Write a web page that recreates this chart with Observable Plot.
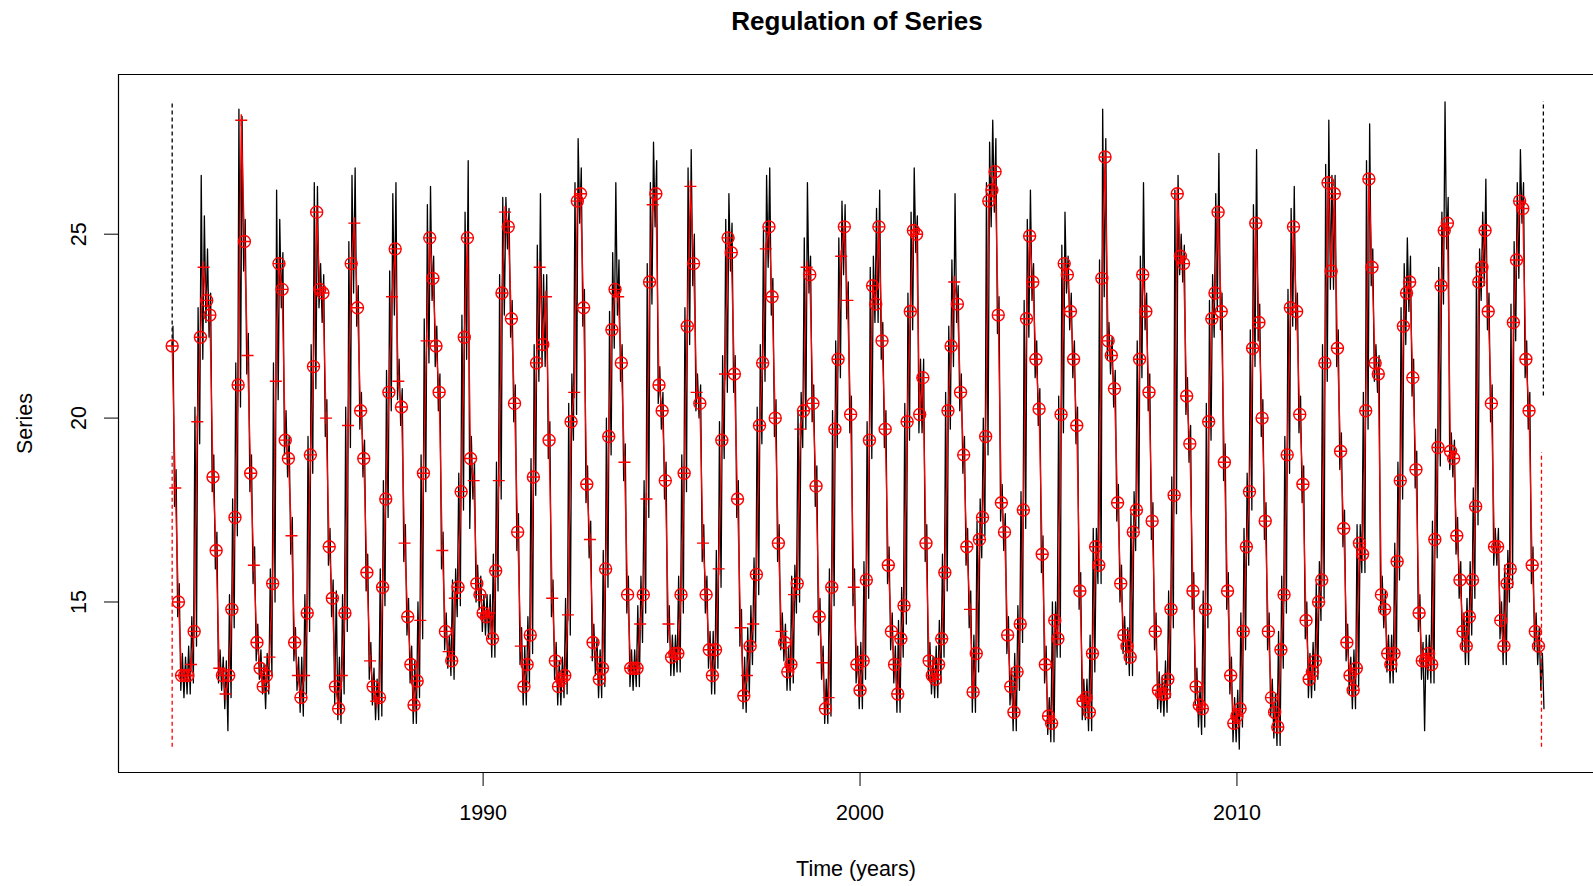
<!DOCTYPE html>
<html><head><meta charset="utf-8">
<script src="https://cdn.jsdelivr.net/npm/d3@7"></script>
<script src="https://cdn.jsdelivr.net/npm/@observablehq/plot@0.6"></script>
<style>
html,body{margin:0;padding:0;background:#fff;}
#title{height:74px;width:1593px;position:relative;font-family:"Liberation Sans",Arial,sans-serif;font-weight:bold;font-size:26px;color:#000;}
#title span{position:absolute;left:857px;top:21px;transform:translate(-50%,-50%);white-space:nowrap;}
#chart{width:1593px;height:812px;}
</style></head><body>
<div id="title"><span>Regulation of Series</span></div>
<div id="chart"></div>
<script>
// Monthly regularised series (red), starting October 1981
const seriesStart = 1981.75;
const redValues = [
 21.96,18.1,15.0,
 13.0,13.0,13.0,13.3,14.2,19.9,22.2,24.1,23.2,22.8,18.4,16.4,
 13.2,13.0,12.5,13.0,14.8,17.3,20.9,28.1,24.8,21.7,18.5,16.0,
 13.9,13.2,12.7,13.0,13.5,15.5,21.0,24.2,23.5,19.4,18.9,16.8,
 13.9,13.0,12.4,13.0,14.7,19.0,21.4,25.6,23.5,23.4,20.0,16.5,
 15.1,12.7,12.1,13.0,14.7,19.8,24.2,25.3,23.0,20.2,18.9,15.8,
 13.4,12.7,12.3,12.4,15.4,17.8,20.7,23.3,24.6,21.0,20.3,16.6,
 14.6,13.3,12.2,12.85,14.5,18.5,22.1,24.9,23.8,21.96,20.7,16.4,
 14.2,13.65,13.4,15.1,15.4,18.0,22.2,24.9,18.9,18.3,15.5,15.2,
 14.7,14.6,14.7,14.0,15.85,18.3,23.4,25.6,25.2,22.7,20.4,16.9,
 13.8,12.7,13.3,14.1,18.4,21.5,24.1,22.0,23.3,19.4,15.1,13.4,
 12.7,12.9,13.0,14.65,19.9,20.7,25.9,26.1,23.0,18.2,16.7,13.9,
 13.5,12.9,13.2,15.9,19.5,22.4,23.5,23.3,21.5,18.8,15.2,13.2,
 13.2,13.2,14.4,15.2,17.8,23.7,25.8,26.1,20.9,20.2,18.3,14.4,
 13.5,13.6,13.6,15.2,18.5,22.5,26.3,24.2,20.7,20.4,16.6,15.2,
 13.7,13.0,13.7,15.9,19.4,21.2,24.9,24.5,21.2,17.8,14.3,12.45,
 13.0,13.8,14.4,15.75,19.8,21.5,24.6,25.2,23.3,20.0,16.6,14.2,
 13.9,13.1,13.3,15.2,15.5,19.7,20.2,24.1,23.9,20.4,18.15,14.6,
 13.35,12.1,12.4,15.4,19.7,21.6,24.4,25.2,23.2,20.1,15.4,13.3,
 12.6,13.4,15.6,19.4,23.6,23.1,25.2,22.1,19.7,16.0,14.2,13.3,
 12.5,14.0,14.9,19.9,22.9,25.1,25.0,20.1,21.1,16.6,13.4,13.0,
 12.9,13.3,14.0,15.8,20.2,21.96,23.7,23.1,20.7,19.0,16.5,14.8,
 12.55,13.6,16.7,17.3,19.5,25.9,26.2,26.7,22.8,17.7,16.9,14.1,
 12.7,12.0,13.1,14.4,17.5,22.7,24.95,23.7,21.6,20.25,16.3,13.3,
 11.9,11.7,14.5,14.0,20.1,24.2,23.9,22.9,21.6,19.8,15.3,12.3,
 12.4,12.0,13.6,16.5,16.0,23.8,27.1,22.1,21.7,20.8,17.7,15.5,
 14.1,13.8,13.5,16.9,17.5,21.6,23.9,22.9,20.7,17.2,14.2,12.6,
 12.5,12.5,12.9,14.8,17.9,26.1,24.4,24.2,20.6,19.3,15.3,12.7,
 12.2,12.1,14.8,19.9,22.7,23.4,25.6,22.9,18.8,15.3,13.0,11.7,
 11.9,12.1,14.2,16.5,18.0,21.9,25.3,22.6,20.0,17.2,14.2,12.4,
 12.0,11.6,13.7,15.2,19.0,23.0,25.2,22.9,20.1,18.2,14.5,12.9,
 13.1,13.4,15.0,15.6,21.5,26.4,24.0,26.1,21.9,19.1,17.0,13.9,
 13.0,12.6,13.2,16.6,16.3,20.2,26.5,24.1,21.5,21.2,15.2,14.8,
 13.6,13.3,13.6,16.1,18.3,22.5,23.4,23.7,21.1,18.6,14.7,13.4,
 13.4,13.6,13.3,16.7,19.2,23.6,25.1,25.3,19.1,18.9,16.8,15.6,
 14.2,13.8,14.6,15.6,17.6,23.7,24.1,25.1,22.9,20.4,16.5,16.5,
 14.5,13.8,15.5,15.9,22.6,24.3,25.9,25.7,21.6,20.2,16.0,14.2,
 13.8
];
// "o" = observed point (circle with plus), "+" = plus only
const redMarker = [
 "o+o",
 "ooo+o+o+oooo","+o+oooo+o+o+","oooo+o+oooo+","o+o+oooooo+o","ooo+o+o+oooo",
 "+o+oooo+o+o+","oooo+o+oooo+","o+o+ooooo+oo","oo+oo+o+oooo","+ooooo+o+o+o",
 "ooo+o+oooo+o","+oooooo+o+oo","oo+o+o+oooo+","oooooo+o+o+o","ooo+o+oooo+o",
 "+o+ooo+oooo+","ooo+o+o+oooo","+o+ooo+o+o+o","oooooooooooo","oooooooooooo",
 "oooooo+oooo+","oooooooooooo","oooooooooooo","oooooooooooo","oooooooooooo",
 "oooooooooooo","oooooooooooo","oooooooooooo","oooooooooooo","oooooooooooo",
 "oooooooooooo","oooooooooooo","oooooooooooo","oooooooooooo","oooooooooooo",
 "oooooooooooo","o"
].join("");
// Raw daily series (black): monthly high and low excursions
const blackHi = [
 22.5,18.6,15.5,
 13.6,13.5,13.8,14.6,20.3,23.0,26.6,25.5,24.6,23.4,19.0,16.9,
 13.7,13.5,13.4,15.2,17.8,21.5,28.4,28.2,25.4,22.3,19.0,16.5,
 14.4,13.7,13.3,13.6,15.9,21.5,26.2,25.4,24.5,20.2,19.5,17.3,
 14.3,13.5,13.5,15.2,19.5,22.0,26.4,26.3,24.2,23.9,20.5,17.0,
 15.6,15.3,13.5,15.2,20.3,24.8,26.6,26.8,23.6,20.7,19.4,16.3,
 13.9,13.2,12.9,15.9,18.3,21.3,24.0,26.1,26.4,21.6,20.8,17.1,
 15.1,13.8,13.4,15.0,19.0,22.7,25.8,26.3,24.4,22.5,21.2,16.9,
 14.7,14.1,15.6,15.9,18.5,22.8,25.6,27.0,19.5,18.8,16.0,15.7,
 15.2,15.2,15.2,16.3,18.8,23.9,26.0,26.0,25.7,23.2,20.9,17.4,
 14.3,13.8,14.6,18.9,22.0,24.7,26.1,23.9,23.9,19.9,15.6,13.9,
 13.4,13.5,15.1,20.4,21.2,26.4,27.6,26.8,23.5,18.7,17.2,14.4,
 14.0,13.7,16.4,20.0,22.9,24.5,26.4,24.3,22.0,19.3,15.7,13.7,
 13.7,14.9,15.7,18.3,24.2,26.4,27.5,27.0,21.4,20.7,18.8,14.9,
 14.1,14.1,15.7,19.0,23.0,26.8,27.3,25.0,21.2,20.9,17.1,15.7,
 14.2,14.2,16.4,19.9,21.7,25.4,26.1,25.3,21.7,18.3,14.8,13.5,
 14.3,14.9,16.2,20.3,22.0,25.1,26.6,26.8,23.8,20.5,17.1,14.7,
 14.4,13.8,15.7,16.0,20.2,20.7,24.9,26.4,24.4,20.9,18.7,15.1,
 13.8,12.9,15.9,20.2,22.1,24.9,25.9,25.8,23.7,20.6,15.9,13.8,
 13.9,16.1,19.9,24.1,24.4,25.7,26.2,22.6,20.2,16.5,14.7,13.8,
 14.5,15.4,20.4,23.4,25.6,26.8,25.5,21.6,21.6,17.1,13.9,13.5,
 13.8,14.5,16.3,20.7,22.5,24.3,26.1,23.6,21.2,19.5,17.0,15.3,
 14.1,17.2,17.8,20.0,26.4,27.5,28.1,27.6,23.3,18.2,17.4,14.6,
 13.2,13.6,14.9,18.0,23.2,25.4,26.2,24.2,22.1,20.8,16.8,13.8,
 12.4,15.0,15.0,20.6,24.7,25.6,24.4,23.4,22.1,20.3,15.8,12.9,
 12.9,14.1,17.0,17.0,24.3,28.4,27.6,22.6,22.2,21.3,18.2,16.0,
 14.6,14.3,17.4,18.0,22.1,24.4,26.4,23.4,21.2,17.7,14.7,13.1,
 13.0,13.4,15.3,18.4,26.2,26.6,25.0,24.7,21.1,19.8,15.8,13.2,
 12.7,15.3,20.4,23.2,23.9,26.1,27.2,23.4,19.3,15.8,13.5,12.4,
 12.6,14.7,17.0,18.5,22.4,25.8,27.3,23.1,20.5,17.7,14.7,12.9,
 12.5,14.2,15.7,19.5,23.5,25.7,26.3,23.4,20.6,18.7,15.0,13.6,
 13.9,15.5,16.1,22.0,26.9,28.1,26.6,26.6,22.4,19.6,17.5,14.4,
 13.5,13.7,17.1,17.1,20.7,27.0,28.0,24.6,22.0,21.7,15.7,15.3,
 14.1,14.1,16.6,18.8,23.0,24.2,24.9,24.4,21.6,19.1,15.2,13.9,
 14.1,14.1,17.2,19.7,24.1,25.6,28.6,26.0,19.6,19.4,17.3,16.1,
 14.7,15.1,16.1,18.1,24.2,24.6,25.6,26.5,23.4,20.9,17.0,17.0,
 15.0,16.0,16.4,23.1,24.8,26.4,27.3,26.4,22.1,20.7,16.5,14.7,
 14.3,13.6
];
const blackLo = [
 17.6,14.6,12.6,
 12.4,12.5,12.5,12.8,13.8,19.3,21.6,22.6,22.2,18.0,15.9,12.8,
 12.6,12.1,11.5,12.4,14.3,16.8,20.3,24.0,21.2,18.0,15.5,13.4,
 12.9,12.5,12.1,12.5,13.0,15.0,20.5,23.0,19.0,18.4,16.3,13.4,
 12.6,12.0,11.9,12.5,14.2,18.5,20.8,23.0,22.6,19.5,16.0,14.6,
 12.2,11.8,11.7,12.5,14.2,19.2,23.4,22.5,19.7,18.4,15.3,12.9,
 12.2,11.8,11.8,11.9,14.9,17.3,20.2,22.8,20.5,19.8,16.1,14.1,
 12.8,11.7,11.7,12.4,14.0,18.0,21.5,23.2,21.4,20.2,15.9,13.7,
 13.2,13.0,12.9,14.6,14.9,17.5,21.6,17.0,17.8,15.0,14.8,14.2,
 14.1,14.0,13.5,13.5,15.3,17.8,22.8,24.6,22.2,19.9,16.4,13.3,
 12.2,12.2,12.8,13.6,17.9,21.0,21.4,21.4,18.9,14.6,12.9,12.2,
 12.2,12.4,12.5,14.1,19.4,20.1,25.3,22.5,17.7,16.2,13.4,13.0,
 12.4,12.4,12.7,15.4,19.0,21.9,22.8,21.0,18.3,14.7,12.7,12.6,
 12.7,12.7,13.9,14.7,17.3,23.1,25.2,20.4,19.7,17.8,13.9,13.0,
 13.0,13.1,13.1,14.7,18.0,22.0,23.6,20.2,20.0,16.1,14.7,13.2,
 12.5,12.5,13.2,15.4,18.9,20.7,24.0,20.7,17.3,13.8,12.1,12.0,
 12.5,13.3,13.9,15.2,19.3,21.0,24.1,22.8,19.5,16.1,13.7,13.4,
 12.6,12.6,12.8,14.7,15.0,19.2,19.7,23.4,19.9,17.6,14.1,12.9,
 11.7,11.7,11.9,14.9,19.2,21.1,23.9,22.7,19.6,14.9,12.8,12.1,
 12.1,12.9,15.1,18.9,22.6,22.6,21.6,19.2,15.5,13.7,12.8,12.0,
 12.0,13.5,14.4,19.4,22.4,24.5,19.6,19.6,16.1,12.9,12.5,12.4,
 12.4,12.8,13.5,15.3,19.7,21.4,22.6,20.2,18.5,16.0,14.3,12.0,
 12.0,13.1,16.2,16.8,19.0,25.2,25.6,22.3,17.2,16.4,13.6,12.2,
 11.5,11.5,12.6,13.9,17.0,22.2,23.2,21.1,19.8,15.8,12.8,11.4,
 11.2,11.2,13.5,13.5,19.6,23.4,22.4,21.1,19.3,14.8,11.8,11.8,
 11.5,11.5,13.1,15.5,15.5,23.3,21.6,21.2,20.3,17.2,15.0,13.6,
 13.3,13.0,13.0,16.4,17.0,21.1,22.4,20.2,16.7,13.7,12.1,12.0,
 11.9,12.0,12.4,14.3,17.4,23.9,23.7,20.1,18.8,14.8,12.2,11.6,
 11.4,11.6,14.3,19.4,22.2,22.9,22.4,18.3,14.8,12.5,11.2,11.2,
 11.0,11.6,13.7,16.0,17.5,21.4,22.1,19.5,16.7,13.7,11.9,11.3,
 11.1,11.1,13.2,14.7,18.5,22.5,22.4,19.6,17.7,14.0,12.4,12.4,
 12.6,12.9,14.5,15.1,21.0,23.5,23.5,21.4,18.6,16.5,13.4,12.5,
 12.1,12.1,12.7,15.8,15.8,19.7,23.6,21.0,20.7,14.7,14.3,13.1,
 12.8,12.8,13.1,15.6,17.8,22.0,22.9,20.6,18.1,14.2,12.9,11.5,
 12.9,12.8,12.8,16.2,18.7,23.1,24.6,18.6,18.4,16.3,15.1,13.7,
 13.3,13.3,14.1,15.1,17.1,23.2,23.6,22.4,19.9,16.0,16.0,14.0,
 13.3,13.3,15.0,15.4,22.1,23.8,25.3,21.1,19.7,15.5,13.7,13.3,
 12.6,12.1
];
// Dashed range markers at the start and end of the record
const rangeRules = [
 {t: 1981.75, lo: 21.96, hi: 28.6, col: "black"},
 {t: 1981.75, lo: 11.05, hi: 19.06, col: "red"},
 {t: 2018.13, lo: 20.6, hi: 28.6, col: "black"},
 {t: 2018.08, lo: 11.05, hi: 19.06, col: "red"}
];
const xTicks = [1990, 2000, 2010];
const yTicks = [15, 20, 25];
const xDomain = [1980.326, 2019.46];
const yDomain = [10.364, 29.342];

const red = redValues.map((v, i) => ({t: seriesStart + i / 12, v, circle: (redMarker[i] || "o") === "o"}));
const black = blackHi.flatMap((h, i) => [
  {t: seriesStart + (i + 0.25) / 12, v: h},
  {t: seriesStart + (i + 0.75) / 12, v: blackLo[i]}
]);
const plusSymbol = {draw(ctx, size) {
  const r = Math.sqrt(size / Math.PI);
  ctx.moveTo(-r, 0); ctx.lineTo(r, 0);
  ctx.moveTo(0, -r); ctx.lineTo(0, r);
}};

const chart = Plot.plot({
  width: 1593, height: 812,
  marginTop: 0, marginBottom: 114, marginLeft: 118, marginRight: 0,
  style: {fontFamily: "'Liberation Sans', Arial, sans-serif", fontSize: "21.5px", background: "#fff", color: "#000", overflow: "visible"},
  x: {domain: xDomain, axis: null},
  y: {domain: yDomain, axis: null},
  marks: [
    Plot.line(black, {x: "t", y: "v", stroke: "#000", strokeWidth: 1.3}),
    Plot.line(red, {x: "t", y: "v", stroke: "#ff0000", strokeWidth: 1.3}),
    Plot.dot(red, {x: "t", y: "v", symbol: plusSymbol, r: 6, stroke: "#ff0000", fill: "none", strokeWidth: 1.4}),
    Plot.dot(red.filter(d => d.circle), {x: "t", y: "v", r: 6, stroke: "#ff0000", fill: "none", strokeWidth: 1.4}),
    Plot.ruleX(rangeRules, {x: "t", y1: "lo", y2: "hi", stroke: "col", strokeDasharray: "4,3", strokeWidth: 1.3}),
    Plot.ruleY([yDomain[1]], {stroke: "#000", strokeWidth: 1.2}),
    Plot.ruleY([yDomain[0]], {stroke: "#000", strokeWidth: 1.2}),
    Plot.ruleX([xDomain[0]], {stroke: "#000", strokeWidth: 1.2}),
    Plot.axisX({ticks: xTicks, tickSize: 14, tickPadding: 18, tickFormat: d => String(d), label: null, fontSize: 21.5}),
    Plot.axisY({ticks: yTicks, tickSize: 14, tickFormat: () => "", label: null}),
    Plot.text(yTicks, {x: () => xDomain[0], y: d => d, text: d => String(d), rotate: -90, dx: -39, fontSize: 21.5, textAnchor: "middle", lineAnchor: "middle"}),
    Plot.text(["Series"], {frameAnchor: "left", dx: -93, rotate: -90, fontSize: 21.5, textAnchor: "middle", lineAnchor: "middle"}),
    Plot.text(["Time (years)"], {frameAnchor: "bottom", dy: 96.6, fontSize: 21.5, textAnchor: "middle", lineAnchor: "middle"})
  ]
});
document.getElementById("chart").appendChild(chart);
</script>
</body></html>
